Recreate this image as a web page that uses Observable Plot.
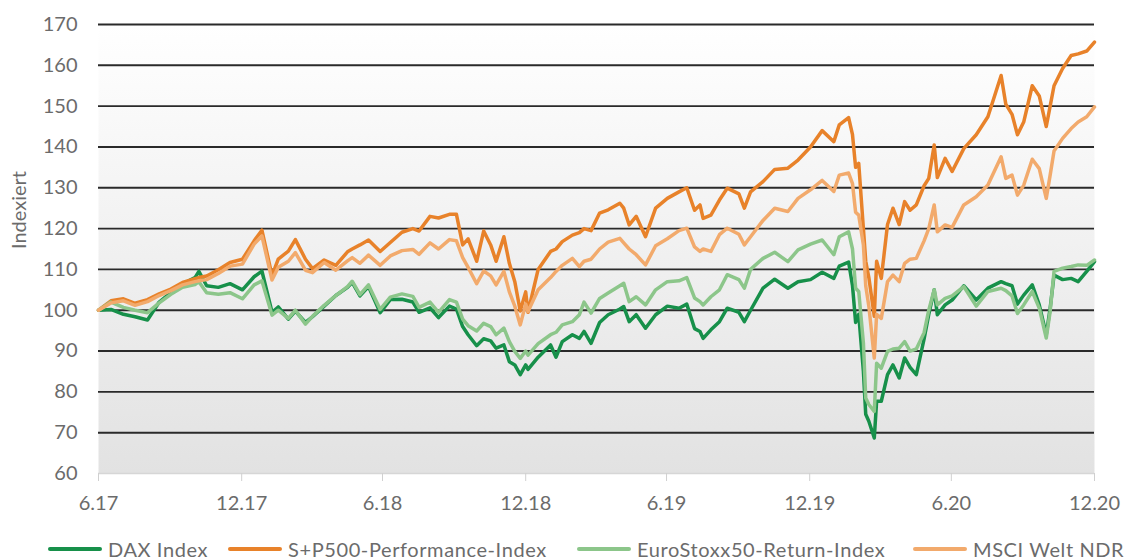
<!DOCTYPE html>
<html><head><meta charset="utf-8">
<script src="https://cdn.jsdelivr.net/npm/d3@7"></script>
<script src="https://cdn.jsdelivr.net/npm/@observablehq/plot@0.6"></script>
<style>
body{margin:0;background:#fff;font-family:Lato,"Open Sans",sans-serif;}
#chart{position:relative;width:1127px;height:560px;overflow:hidden;}
#chart svg{position:absolute;left:0;top:0;}
#legend{position:absolute;left:0;top:537px;width:1127px;height:24px;}
.item{position:absolute;top:0;height:24px;display:flex;align-items:center;font-size:20px;color:#6b6b6b;white-space:nowrap;letter-spacing:0.6px;}
.sw{width:54px;height:4px;margin-right:6px;border-radius:2px;}
</style></head><body>
<div id="chart"><div id="legend"></div></div>
<script>
const dates = ["2017-06-30","2017-07-16","2017-08-01","2017-08-16","2017-09-01","2017-09-16","2017-10-01","2017-10-16","2017-11-01","2017-11-06","2017-11-16","2017-12-01","2017-12-16","2018-01-01","2018-01-16","2018-01-26","2018-02-08","2018-02-16","2018-03-01","2018-03-10","2018-03-23","2018-04-01","2018-04-16","2018-05-01","2018-05-16","2018-05-22","2018-06-01","2018-06-12","2018-06-27","2018-07-10","2018-07-25","2018-08-08","2018-08-16","2018-08-30","2018-09-10","2018-09-24","2018-10-03","2018-10-11","2018-10-18","2018-10-29","2018-11-07","2018-11-16","2018-11-23","2018-12-03","2018-12-10","2018-12-17","2018-12-24","2018-12-31","2019-01-03","2019-01-16","2019-02-01","2019-02-08","2019-02-16","2019-03-01","2019-03-10","2019-03-16","2019-03-25","2019-04-05","2019-04-16","2019-05-01","2019-05-06","2019-05-13","2019-05-22","2019-06-03","2019-06-16","2019-07-01","2019-07-16","2019-07-26","2019-08-05","2019-08-12","2019-08-16","2019-08-26","2019-09-06","2019-09-16","2019-10-01","2019-10-08","2019-10-16","2019-11-01","2019-11-16","2019-12-03","2019-12-16","2020-01-01","2020-01-16","2020-01-31","2020-02-07","2020-02-19","2020-02-24","2020-02-28","2020-03-03","2020-03-09","2020-03-12","2020-03-16","2020-03-23","2020-03-26","2020-04-01","2020-04-09","2020-04-16","2020-04-24","2020-05-01","2020-05-08","2020-05-16","2020-05-26","2020-06-01","2020-06-08","2020-06-12","2020-06-22","2020-07-01","2020-07-16","2020-08-01","2020-08-16","2020-09-02","2020-09-08","2020-09-16","2020-09-23","2020-10-01","2020-10-12","2020-10-21","2020-10-30","2020-11-04","2020-11-09","2020-11-20","2020-12-01","2020-12-10","2020-12-21","2020-12-31"];

const sp500 = [100,102.3,102.8,101.7,102.6,104.0,105.2,106.8,107.7,108.0,108.4,109.9,111.7,112.5,117.0,119.6,108.5,112.5,114.5,117.3,112.5,110.2,112.3,111.0,114.3,115.0,116.0,117.2,114.4,116.6,119.1,120.0,119.4,123.0,122.6,123.5,123.5,116.0,117.5,112.0,119.4,116.0,112.0,118.0,111.5,107.0,99.8,104.5,99.5,110.0,114.4,115.0,116.8,118.4,119.0,120.0,119.5,123.8,124.6,126.2,125.0,120.9,123.0,118.0,125.0,127.4,129.0,130.0,124.5,125.8,122.5,123.3,127.0,129.9,128.5,125.0,129.0,131.5,134.5,134.8,136.8,140.0,144.0,141.3,145.4,147.2,143.0,135.0,136.0,120.0,112.0,108.0,98.5,112.0,107.8,121.0,125.0,121.0,126.6,124.5,125.8,130.5,132.3,140.5,132.5,137.2,134.0,139.6,143.0,147.4,157.5,150.5,148.0,143.0,146.1,155.0,152.5,145.0,150.0,155.0,159.2,162.4,162.8,163.5,165.7];

const msci = [100,101.8,102.3,101.2,102.1,103.6,104.8,106.2,107.0,107.2,107.5,109.0,110.8,111.3,116.2,118.2,107.4,110.5,112.0,114.1,109.8,109.2,111.7,109.8,112.1,112.9,111.5,113.5,111.0,113.3,114.6,114.9,113.7,116.5,115.0,117.3,117.0,112.9,110.5,106.5,109.6,108.4,106.2,109.5,104.5,101.0,96.4,101.5,99.7,105.0,108.0,109.5,111.0,112.7,110.7,112.0,112.5,115.0,116.7,117.6,116.5,115.0,113.6,111.1,115.8,117.5,119.5,120.1,115.5,114.4,115.0,114.4,118.5,120.1,118.6,116.0,118.0,122.0,125.0,124.2,127.4,129.5,131.8,129.1,133.1,133.6,131.0,124.0,123.3,116.0,106.0,101.0,88.3,99.0,98.0,107.0,108.6,107.0,111.5,112.5,112.7,117.0,120.0,125.8,119.2,120.9,120.3,125.8,127.8,130.7,137.6,132.3,133.1,128.2,130.6,137.0,134.7,127.4,133.1,139.0,142.1,144.5,146.1,147.4,149.8];

const dax = [100,100.2,99.0,98.4,97.6,102.0,104.3,106.4,108.0,109.5,106.0,105.6,106.5,105.0,108.2,109.6,99.5,100.8,97.8,99.8,97.0,98.4,101.0,103.6,105.6,106.8,103.5,105.8,99.4,102.6,102.7,102.0,99.5,100.6,98.2,101.0,100.3,96.0,94.0,91.3,93.0,92.5,90.7,91.5,87.4,86.6,84.2,86.6,85.5,88.5,91.5,88.5,92.3,94.0,93.1,94.8,91.9,97.0,98.9,100.3,100.9,97.2,98.9,95.6,98.9,101.0,100.5,101.5,95.5,94.8,93.1,95.2,97.2,100.5,99.5,97.2,100.0,105.4,107.6,105.4,107.0,107.5,109.3,107.8,110.8,111.8,106.0,97.0,99.0,85.0,74.5,72.8,68.7,77.7,77.7,84.2,86.6,83.4,88.3,86.0,84.2,93.0,99.0,105.0,98.9,101.3,102.5,106.0,102.5,105.4,107.0,106.5,106.0,101.5,103.7,106.2,101.3,94.0,100.5,108.6,107.5,107.8,107.0,109.5,111.9];

const euroStoxx = [100,102.0,100.7,100.0,99.4,101.8,103.9,105.6,106.3,107.0,104.3,103.9,104.3,102.8,106.2,107.2,98.8,100.0,98.0,100.0,96.6,98.5,101.2,103.6,105.8,107.1,103.8,106.2,100.2,103.2,104.0,103.4,100.7,102.0,99.5,102.6,102.0,97.8,96.2,94.9,96.8,96.0,94.0,95.6,92.3,89.9,88.2,90.0,89.0,91.8,94.0,94.6,96.4,97.2,98.9,102.0,99.3,102.9,104.2,106.0,106.6,102.1,103.3,101.3,105.0,107.0,107.2,108.0,103.0,102.1,101.3,103.3,105.0,108.7,107.5,105.4,110.0,112.7,114.2,111.9,114.8,116.2,117.2,113.6,118.0,119.2,115.0,105.4,104.6,92.0,78.5,76.9,75.2,87.0,85.8,89.9,90.5,90.7,92.3,90.0,90.5,94.5,100.0,105.0,101.3,102.9,103.5,105.8,101.0,104.6,105.4,104.8,103.5,99.2,101.3,104.6,100.5,93.2,99.7,109.5,110.3,110.7,111.1,111.0,112.3];

const seriesNames = ["DAX Index","S+P500-Performance-Index","EuroStoxx50-Return-Index","MSCI Welt NDR"];
const seriesColors = ["#17904a","#e8822a","#8cc68a","#f2aa6c"];
const seriesValues = [dax, sp500, euroStoxx, msci];
const yTicks = [60,70,80,90,100,110,120,130,140,150,160,170];
const xTickDates = ["2017-06-30","2017-12-31","2018-06-30","2018-12-31","2019-06-30","2019-12-31","2020-06-30","2020-12-31"];
const yLabel = "Indexiert";

const parse = d3.utcParse("%Y-%m-%d");
const xTicks = xTickDates.map(parse);
const fmt = d => `${d.getUTCMonth()+1}.${String(d.getUTCFullYear()).slice(2)}`;
const textColor = "#6b6b6b";

const lineMarks = seriesValues.map((vals, i) =>
  Plot.line(dates.map((d, j) => ({date: parse(d), value: vals[j]})),
    {x: "date", y: "value", stroke: seriesColors[i], strokeWidth: 3.5, strokeLinejoin: "round", curve: "linear"}));

const plot = Plot.plot({
  width: 1127,
  height: 515,
  marginLeft: 98,
  marginRight: 33,
  marginTop: 24,
  marginBottom: 42,
  style: {background: "transparent", fontFamily: "Lato, 'Open Sans', sans-serif", overflow: "visible"},
  x: {type: "utc", domain: [xTicks[0], xTicks[xTicks.length-1]]},
  y: {domain: [60, 170]},
  marks: [
    Plot.frame({fill: "url(#bgGrad)", stroke: null}),
    Plot.ruleY(yTicks.filter(v => v > 60), {stroke: "#2a2a2a", strokeWidth: 1.9}),
    Plot.ruleY([60], {stroke: "#d6d6d6", strokeWidth: 1.5}),
    Plot.axisX(xTicks, {tickSize: 8, tickPadding: 14, stroke: "#d0d0d0", fill: textColor, fontSize: 20, tickFormat: fmt, label: null}),
    Plot.axisY(yTicks, {tickSize: 0, tickPadding: 21, fill: textColor, fontSize: 20, label: null}),
    Plot.text([yLabel], {frameAnchor: "left", dx: -79, rotate: -90, fontSize: 20, fill: textColor}),
    ...lineMarks
  ]
});

const ns = "http://www.w3.org/2000/svg";
const defs = document.createElementNS(ns, "defs");
const lg = document.createElementNS(ns, "linearGradient");
lg.setAttribute("id", "bgGrad");
lg.setAttribute("x1", "0"); lg.setAttribute("y1", "0");
lg.setAttribute("x2", "0"); lg.setAttribute("y2", "1");
[["0%", "#ffffff"], ["100%", "#e2e2e2"]].forEach(([o, c]) => {
  const s = document.createElementNS(ns, "stop");
  s.setAttribute("offset", o); s.setAttribute("stop-color", c);
  lg.appendChild(s);
});
defs.appendChild(lg);
plot.insertBefore(defs, plot.firstChild);

const chart = document.getElementById("chart");
chart.insertBefore(plot, chart.firstChild);

const legendX = [48, 228, 577, 913];
const legend = document.getElementById("legend");
seriesNames.forEach((name, i) => {
  const item = document.createElement("div");
  item.className = "item";
  item.style.left = legendX[i] + "px";
  const sw = document.createElement("span");
  sw.className = "sw";
  sw.style.background = seriesColors[i];
  const t = document.createElement("span");
  t.textContent = name;
  item.appendChild(sw); item.appendChild(t);
  legend.appendChild(item);
});
</script>
</body></html>
